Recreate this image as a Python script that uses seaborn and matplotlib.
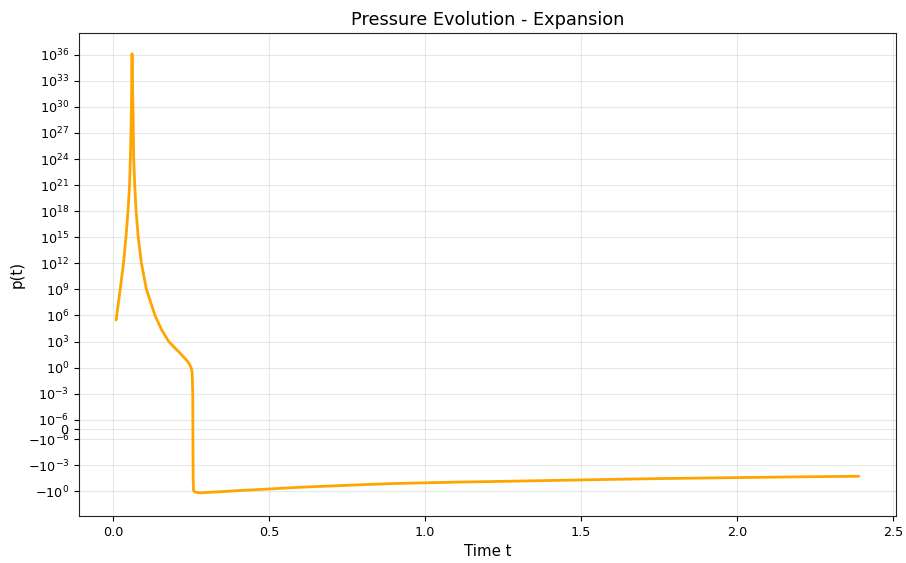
import matplotlib
matplotlib.use("Agg")
import matplotlib.pyplot as plt
import seaborn as sns
import pandas as pd

# Time samples
t_values = [0.0100, 0.0230, 0.0335, 0.0415, 0.0480, 0.0530, 0.0556, 0.0575, 0.0590, 0.0601,
            0.0610, 0.0620, 0.0640, 0.0652, 0.0663, 0.0696, 0.0740, 0.0808, 0.0910, 0.1071,
            0.1346, 0.1550, 0.1785, 0.2000, 0.2140, 0.2300, 0.2430, 0.2500, 0.2535, 0.2555,
            0.2560, 0.2565, 0.2570, 0.2580, 0.2620, 0.2700, 0.2850, 0.3000, 0.3500, 0.4000,
            0.5000, 0.6000, 0.7600, 0.9000, 1.1000, 1.3300, 1.5000, 1.7500, 2.0000, 2.2000,
            2.3900]

# Pressure values p(t) (symlog axis)
p_values = [3.0e5, 1.0e9, 1.0e12, 1.0e15, 1.0e18, 1.0e21, 1.0e24, 1.0e27, 1.0e30, 1.0e33,
            1.3e36, 1.0e33, 1.0e30, 1.0e27, 1.0e24, 1.0e21, 1.0e18, 1.0e15, 1.0e12, 1.0e9,
            1.0e6, 2.5e4, 1.0e3, 1.6e2, 50.0, 12.0, 3.5, 1.0, 0.3, 1.0e-3,
            0.0, -1.0e-3, -0.05, -0.8, -1.2, -1.45, -1.5, -1.4, -1.1, -0.85,
            -0.55, -0.35, -0.2, -0.13, -0.09, -0.065, -0.05, -0.035, -0.027, -0.022,
            -0.019]

title_text = "Pressure Evolution - Expansion"
x_label = "Time t"
y_label = "p(t)"

sns.set_style("ticks")
plt.rcParams["font.family"] = ["DejaVu Sans"]
plt.rcParams["text.color"] = "black"
plt.rcParams["axes.labelcolor"] = "black"
plt.rcParams["xtick.color"] = "black"
plt.rcParams["ytick.color"] = "black"

df = pd.DataFrame({"t": t_values, "p": p_values})

fig = plt.figure(figsize=(9.06, 5.63), dpi=100)
ax = fig.add_axes([79 / 906, 1 - 516 / 563, (896 - 79) / 906, (516 - 33) / 563])

sns.lineplot(data=df, x="t", y="p", ax=ax, color="orange", linewidth=2.0,
             estimator=None, sort=False)

ax.set_yscale("symlog", linthresh=1e-6)
ax.set_ylim(-10 ** 2.85, 10 ** 38.5)

ax.grid(True, color="#b0b0b0", alpha=0.3, linewidth=0.8)
ax.set_title(title_text, fontsize=12.8)
ax.set_xlabel(x_label, fontsize=10.8)
ax.set_ylabel(y_label, fontsize=10.8, labelpad=2)
ax.tick_params(labelsize=9.2)
for s in ax.spines.values():
    s.set_visible(True)
    s.set_color("#222222")

fig.savefig("out.png", dpi=100)
